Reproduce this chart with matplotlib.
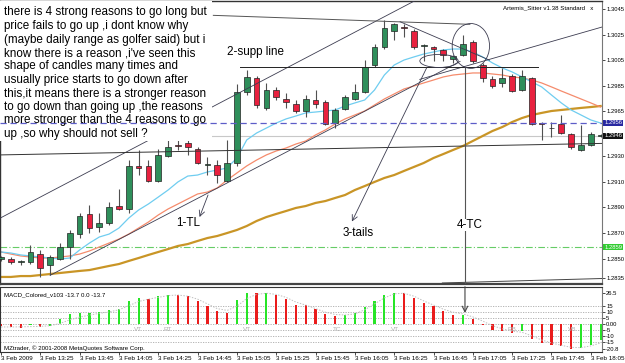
import matplotlib
matplotlib.use("Agg")
import matplotlib.pyplot as plt
from matplotlib.patches import Rectangle, Ellipse

W, H = 625, 363

# 5 minute candles, 3 Feb 2009 from 13:05
opens = [1.2850, 1.2850, 1.2847, 1.2847, 1.2854, 1.2845, 1.2850, 1.2859, 1.2869, 1.2885,
         1.2875, 1.2878, 1.2891, 1.2889, 1.2922, 1.2922, 1.2911, 1.2930, 1.2939, 1.2940,
         1.2936, 1.2923, 1.2923, 1.2911, 1.2925, 1.2980, 1.2991, 1.2968, 1.2982, 1.2975,
         1.2971, 1.2965, 1.2974, 1.2972, 1.2956, 1.2967, 1.2975, 1.2980, 1.3001, 1.3015,
         1.3028, 1.3031, 1.3028, 1.3016, 1.3015, 1.3013, 1.3006, 1.3009, 1.3019, 1.3001,
         1.2990, 1.2987, 1.2993, 1.2982, 1.2991, 1.2956, 1.2952, 1.2955, 1.2947, 1.2935,
         1.2939, 1.2946]
highs = [1.2852, 1.2851, 1.2849, 1.2861, 1.2857, 1.2853, 1.2862, 1.2872, 1.2886, 1.2892,
         1.2886, 1.2894, 1.2904, 1.2927, 1.2935, 1.2927, 1.2936, 1.2943, 1.2943, 1.2943,
         1.2937, 1.2929, 1.2927, 1.2943, 1.2986, 1.2997, 1.2993, 1.2987, 1.2984, 1.2979,
         1.2974, 1.2978, 1.2982, 1.2974, 1.2968, 1.2978, 1.2986, 1.3005, 1.3018, 1.3036,
         1.3034, 1.3033, 1.3029, 1.3018, 1.3016, 1.3014, 1.3009, 1.3025, 1.3021, 1.3003,
         1.2993, 1.2999, 1.2994, 1.2997, 1.2992, 1.2957, 1.2957, 1.2962, 1.2948, 1.2954,
         1.2949, 1.2947]
lows = [1.2848, 1.2846, 1.2845, 1.2846, 1.2836, 1.2837, 1.2849, 1.2850, 1.2866, 1.2870,
        1.2871, 1.2876, 1.2888, 1.2886, 1.2915, 1.2910, 1.2910, 1.2929, 1.2935, 1.2931,
        1.2924, 1.2915, 1.2909, 1.2910, 1.2922, 1.2978, 1.2968, 1.2966, 1.2974, 1.2968,
        1.2964, 1.2961, 1.2968, 1.2954, 1.2952, 1.2966, 1.2974, 1.2979, 1.3000, 1.3014,
        1.3021, 1.3023, 1.3014, 1.3004, 1.3004, 1.3004, 1.3003, 1.3008, 1.3003, 1.2988,
        1.2983, 1.2984, 1.2980, 1.2981, 1.2954, 1.2943, 1.2945, 1.2947, 1.2936, 1.2934,
        1.2938, 1.2945]
closes = [1.2851, 1.2847, 1.2848, 1.2855, 1.2843, 1.2851, 1.2859, 1.2870, 1.2883, 1.2874,
          1.2878, 1.2890, 1.2889, 1.2922, 1.2921, 1.2911, 1.2931, 1.2937, 1.2938, 1.2937,
          1.2925, 1.2924, 1.2915, 1.2925, 1.2980, 1.2992, 1.2970, 1.2982, 1.2976, 1.2972,
          1.2965, 1.2975, 1.2971, 1.2955, 1.2966, 1.2976, 1.2980, 1.3000, 1.3015, 1.3030,
          1.3033, 1.3030, 1.3015, 1.3017, 1.3014, 1.3009, 1.3008, 1.3018, 1.3004, 1.2991,
          1.2985, 1.2991, 1.2981, 1.2993, 1.2955, 1.2955, 1.2952, 1.2948, 1.2937, 1.2939,
          1.2947, 1.2946]

# moving averages
ma_fast = [1.28552, 1.28544, 1.28529, 1.28521, 1.28513, 1.28505, 1.28497, 1.28505, 1.28568, 1.28622,
           1.28669, 1.28692, 1.28739, 1.28817, 1.28880, 1.28927, 1.28981, 1.29036, 1.29099, 1.29145,
           1.29153, 1.29177, 1.29192, 1.29208, 1.29286, 1.29427, 1.29481, 1.29520, 1.29559, 1.29591,
           1.29614, 1.29638, 1.29645, 1.29653, 1.29661, 1.29692, 1.29716, 1.29739, 1.29817, 1.29934,
           1.30012, 1.30051, 1.30075, 1.30098, 1.30114, 1.30130, 1.30137, 1.30137, 1.30114, 1.30075,
           1.30028, 1.29989, 1.29958, 1.29919, 1.29880, 1.29841, 1.29778, 1.29716, 1.29661, 1.29622,
           1.29583, 1.29559]
ma_mid = [1.28552, 1.28536, 1.28521, 1.28513, 1.28505, 1.28505, 1.28513, 1.28521, 1.28536, 1.28560,
          1.28591, 1.28622, 1.28653, 1.28692, 1.28739, 1.28786, 1.28841, 1.28888, 1.28927, 1.28966,
          1.29005, 1.29020, 1.29052, 1.29114, 1.29169, 1.29224, 1.29270, 1.29310, 1.29341, 1.29364,
          1.29395, 1.29419, 1.29466, 1.29505, 1.29552, 1.29591, 1.29622, 1.29653, 1.29700, 1.29747,
          1.29786, 1.29825, 1.29848, 1.29872, 1.29895, 1.29919, 1.29934, 1.29942, 1.29950, 1.29950,
          1.29942, 1.29934, 1.29919, 1.29911, 1.29895, 1.29872, 1.29841, 1.29809, 1.29778, 1.29747,
          1.29716, 1.29684]
ma_slow = [1.28357, 1.28357, 1.28364, 1.28364, 1.28372, 1.28380, 1.28388, 1.28396, 1.28404, 1.28411,
           1.28427, 1.28443, 1.28458, 1.28482, 1.28505, 1.28529, 1.28552, 1.28575, 1.28599, 1.28614,
           1.28638, 1.28661, 1.28677, 1.28700, 1.28724, 1.28755, 1.28794, 1.28825, 1.28849, 1.28872,
           1.28896, 1.28911, 1.28935, 1.28950, 1.28974, 1.28997, 1.29036, 1.29067, 1.29099, 1.29130,
           1.29153, 1.29185, 1.29216, 1.29247, 1.29286, 1.29317, 1.29349, 1.29380, 1.29419, 1.29458,
           1.29497, 1.29528, 1.29567, 1.29598, 1.29622, 1.29638, 1.29653, 1.29661, 1.29669, 1.29677,
           1.29684, 1.29692]

# MACD histogram and its dotted signal
macd = [-2.0, -2.8, -3.0, -1.2, -2.8, -1.4, 4.2, 8.4, 9.3, 9.5,
        10.1, 11.5, 12.7, 19.1, 22.0, 21.1, 23.4, 24.8, 24.5, 23.4,
        19.1, 14.9, 10.7, 9.3, 20.0, 26.5, 26.2, 26.4, 24.8, 21.1,
        16.3, 15.8, 12.7, 8.4, 7.0, 7.9, 9.3, 14.4, 19.1, 24.8,
        26.5, 26.2, 22.0, 17.7, 14.9, 11.3, 7.3, 7.9, 4.2, -1.0,
        -4.8, -5.6, -7.6, -6.2, -12.7, -16.0, -17.5, -18.9, -20.8, -20.0,
        -17.5, -13.7]
signal = [-2.5, -2.5, -2.4, -2.2, -2.0, -1.5, 0.5, 3.5, 5.8, 7.5,
          9.0, 10.2, 12.0, 15.5, 19.0, 21.0, 22.5, 24.0, 24.5, 23.5,
          21.0, 17.0, 13.0, 11.5, 15.0, 21.5, 25.0, 26.0, 25.0, 22.5,
          18.5, 16.0, 13.0, 10.0, 8.0, 7.6, 8.5, 12.0, 17.0, 22.0,
          25.5, 26.0, 23.5, 19.5, 16.0, 12.5, 10.0, 8.5, 6.0, 2.5,
          -1.5, -4.0, -6.0, -7.0, -10.0, -13.5, -16.0, -18.0, -19.7, -20.0,
          -18.5, -16.0]

time_labels = ["3 Feb 2009", "3 Feb 13:25", "3 Feb 13:45", "3 Feb 14:05", "3 Feb 14:25",
               "3 Feb 14:45", "3 Feb 15:05", "3 Feb 15:25", "3 Feb 15:45", "3 Feb 16:05",
               "3 Feb 16:25", "3 Feb 16:45", "3 Feb 17:05", "3 Feb 17:25", "3 Feb 17:45",
               "3 Feb 18:05"]
price_ticks = [1.3045, 1.3025, 1.3005, 1.2985, 1.2965, 1.2930, 1.2910, 1.2890, 1.2870, 1.2850, 1.2835]
macd_ticks = [26.5, 15, 10, 5, 0, -5, -10, -15, -20.8]
macd_tick_labels = ["26.5", "15", "10", "5", "0.00", "-5", "-10", "-15", "-20.8"]

level_blue = 1.2956
level_bid = 1.2946
level_green = 1.2859

note = ("there is 4 strong reasons to go long but\n"
        "price fails to go up ,i dont know why\n"
        "(maybe daily range as golfer said) but i\n"
        "know there is a reason ,i've seen this\n"
        "shape of candles many times and\n"
        "usually price starts to go down after\n"
        "this,it means there is a stronger reason\n"
        "to go down than going up ,the reasons\n"
        "more stronger than the 4 reasons to go\n"
        "up ,so why should not sell ?")

GREEN = "#2f8f5b"
RED = "#e8213f"

plt.rcParams['font.family'] = ['Liberation Sans', 'DejaVu Sans']

fig = plt.figure(figsize=(W / 100, H / 100), dpi=100)
fig.patch.set_facecolor("white")


def fpos(x, y):
    return x / W, 1 - y / H


ax = fig.add_axes([0, (H - 284) / H, 602 / W, 283 / H])
ax2 = fig.add_axes([0, (H - 352) / H, 602 / W, 65 / H])

n = len(opens)
xs = list(range(n))

# main panel
ax.plot(xs, ma_slow, color="#c99526", lw=1.6, zorder=2)
ax.plot(xs, ma_mid, color="#f58b6c", lw=0.9, zorder=2)
ax.plot(xs, ma_fast, color="#6fcdf0", lw=0.9, zorder=2)

for i in xs:
    o, hi, lo, c = opens[i], highs[i], lows[i], closes[i]
    col = GREEN if c >= o else RED
    ax.vlines(i, lo, hi, color="#505050", lw=0.8, zorder=3)
    body = max(abs(c - o), 0.00004)
    ax.bar(i, body, bottom=min(o, c), width=0.58, color=col,
           edgecolor="#222222", linewidth=0.5, zorder=3.2)

ax.axhline(level_green, color="#66cc66", lw=0.8, ls=(0, (6, 2, 1, 2)), zorder=1.5)

line_col = "#3c3c50"
# drawn trend lines
ax.axline((0, 1.2882), (42, 1.3051), color=line_col, lw=0.6, zorder=3.5)
ax.plot([5, 46.7], [1.2837, 1.3004], color=line_col, lw=0.6, zorder=3.5)
ax.plot([42.6, 61.2], [1.2990, 1.3031], color=line_col, lw=0.6, zorder=3.5)
ax.plot([-0.1, 61.2], [1.2931, 1.2940], color="#333333", lw=0.7, zorder=3.5)
ax.plot([21.6, 47.7], [1.3040, 1.3033], color="#555555", lw=0.7, zorder=3.5)
ax.plot([40.6, 49.7], [1.3035, 1.3005], color=line_col, lw=0.6, zorder=3.5)
ax.plot([24.3, 54.6], [1.3000, 1.3000], color="#222222", lw=0.7, zorder=3.5)
ax.plot([44.9, 61.2], [1.2831, 1.28345], color="#444444", lw=0.7, zorder=3.5)
ax.plot([21.3, 61.2], [level_bid, level_bid], color="#c8c8c8", lw=0.8, zorder=1.5)
ax.plot([47.2, 47.2], [1.3000, 1.2820], color="#555555", lw=0.8, zorder=3.5)
ax.annotate("", xy=(35.7, 1.2879), xytext=(43.3, 1.2999),
            arrowprops=dict(arrowstyle="->", lw=0.6, color=line_col,
                            shrinkA=0, shrinkB=0), zorder=3.5)
ax.annotate("", xy=(20.2, 1.28825), xytext=(21.06, 1.28997),
            arrowprops=dict(arrowstyle="->", lw=0.6, color=line_col,
                            shrinkA=0, shrinkB=0), zorder=3.5)
ax.add_patch(Ellipse((44.56, 1.30044), 3.9, 0.00102, fill=False,
                     edgecolor=line_col, lw=0.6, zorder=3.6))
ax.add_patch(Ellipse((47.8, 1.30161), 3.8, 0.0035, fill=False,
                     edgecolor=line_col, lw=0.6, zorder=3.6))

# white background of the note
x0, y0 = fpos(0, 141)
x1, y1 = fpos(212, 0)
ax.add_patch(Rectangle((x0, y0), x1 - x0, y1 - y0, transform=fig.transFigure,
                       facecolor="white", edgecolor="none", zorder=4))
ax.axhline(level_blue, color="#5d5dc8", lw=0.9, ls=(0, (5, 3)), zorder=5)

for k, line in enumerate(note.split("\n")):
    fx, fy = fpos(4, 12.5 + 13.5 * k)
    fig.text(fx, fy, line, fontsize=8.4, va="center", ha="left", color="black", zorder=6)

for txt, xx, yy in [("2-supp line", 25.94, 1.30114), ("1-TL", 19.0, 1.28778),
                    ("3-tails", 36.3, 1.28700), ("4-TC", 47.7, 1.28763)]:
    ax.text(xx, yy, txt, fontsize=8.4, ha="center", va="center", zorder=6,
            bbox=dict(facecolor="white", edgecolor="none", pad=0.3) if txt == "4-TC" else None)

ax.text(0.985, 0.975, "Artemis_Sitter v1.38 Standard   x", transform=ax.transAxes,
        fontsize=4.4, ha="right", va="center", zorder=6)

ax.set_xlim(-0.102, 61.14)
ax.set_ylim(1.28302, 1.30512)
ax.yaxis.tick_right()
ax.set_yticks(price_ticks)
ax.set_yticklabels([f"{t:.4f}" for t in price_ticks])
ax.tick_params(axis="y", length=2, pad=1, labelsize=4.2, width=0.5)
ax.set_xticks([])
for s in ["left", "top"]:
    ax.spines[s].set_color("#333333")
    ax.spines[s].set_linewidth(1.0)
ax.spines["right"].set_color("#777777")
ax.spines["bottom"].set_color("#444444")
ax.spines["bottom"].set_linewidth(1.6)

for lvl, bg in [(level_blue, "#2828a0"), (level_bid, "#111111"), (level_green, "#33cc33")]:
    ax.text(1.0035, lvl, f"{lvl:.4f}", transform=ax.get_yaxis_transform(), fontsize=4.2,
            color="white", va="center", ha="left",
            bbox=dict(facecolor=bg, edgecolor="none", pad=0.5), clip_on=False)

# MACD panel
for lv in [15, 10, 5, 0, -5, -10, -15]:
    ax2.axhline(lv, color="#aaaaaa", lw=0.6, ls=(0, (1.5, 1.5)), zorder=1)
cols = []
for i in xs:
    rising = i > 0 and macd[i] > macd[i - 1]
    cols.append("#27e527" if rising else "#ea1c1c")
ax2.bar(xs, macd, width=0.22, color=cols, zorder=2)
ax2.plot(xs, signal, color="#c0c0c0", lw=0.7, ls=(0, (1.5, 1.5)), zorder=2.5)
ax2.annotate("", xy=(47.2, 9.3), xytext=(47.2, 31.5),
             arrowprops=dict(arrowstyle="->", lw=0.8, color="#444444",
                             shrinkA=0, shrinkB=0), zorder=3)
for txt, xx in [("VT", 13.9), ("RT", 17.0), ("VT", 25.0), ("TC", 34.2),
                ("VT", 40.1), ("RB", 52.0), ("VB", 58.1)]:
    ax2.text(xx, -4.5, txt, fontsize=4.6, color="#b0b0b0", ha="center", va="center", zorder=3)

ax2.text(0.007, 0.88, "MACD_Colored_v103 -13.7 0.0 -13.7", transform=ax2.transAxes,
         fontsize=4.4, ha="left", va="center")
ax2.text(0.007, 0.06, "MZtrader, \u00a9 2001-2008 MetaQuotes Software Corp.",
         transform=ax2.transAxes, fontsize=4.4, ha="left", va="center")

ax2.set_xlim(-0.102, 61.14)
ax2.set_ylim(-23.65, 31.25)
ax2.yaxis.tick_right()
ax2.set_yticks(macd_ticks)
ax2.set_yticklabels(macd_tick_labels)
ax2.tick_params(axis="y", length=2, pad=1, labelsize=4.2, width=0.5)
ax2.set_xticks(list(range(0, n, 4)))
ax2.set_xticklabels(time_labels)
ax2.tick_params(axis="x", length=2, pad=1, labelsize=4.5, width=0.5)
for lab in ax2.get_xticklabels():
    lab.set_ha("left")
for s in ["left", "top", "bottom"]:
    ax2.spines[s].set_color("#333333")
ax2.spines["right"].set_color("#777777")

fig.savefig("out.png", dpi=100)
